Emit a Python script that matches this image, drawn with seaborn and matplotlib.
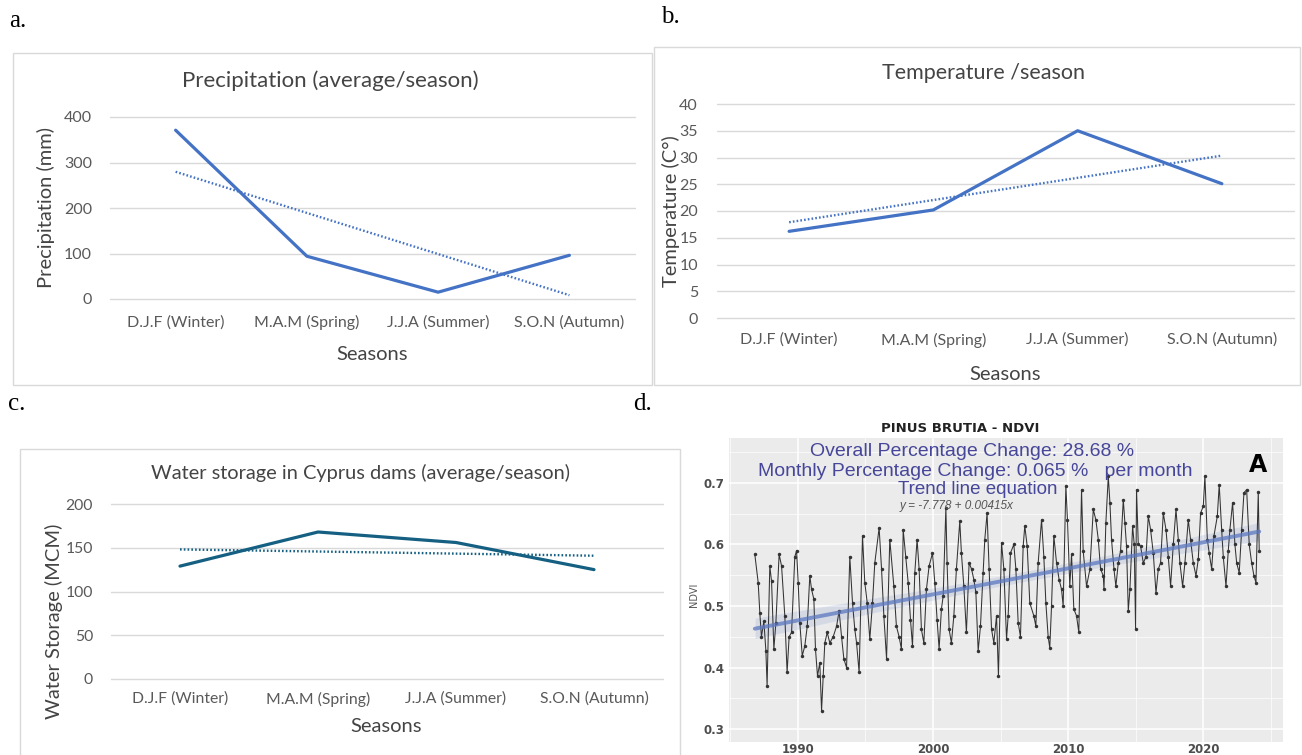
import numpy as np
import pandas as pd
import matplotlib.pyplot as plt
import seaborn as sns
from matplotlib.patches import Rectangle

# seasonal climate values (panels a-c)
seasons = ['D.J.F (Winter)', 'M.A.M (Spring)', 'J.J.A (Summer)', 'S.O.N (Autumn)']
precip_mm = [371, 94, 15, 96]
temp_c = [16.2, 20.2, 35.0, 25.1]
storage_mcm = [129, 168, 156, 125]

# NDVI time series (panel d)
ndvi_year = [
    1986.81, 1987.06, 1987.18, 1987.30, 1987.48, 1987.63, 1987.72, 1987.92, 1988.05, 1988.22,
    1988.37, 1988.61, 1988.79, 1989.03, 1989.20, 1989.35, 1989.53, 1989.77, 1989.90, 1990.02,
    1990.14, 1990.32, 1990.51, 1990.69, 1990.88, 1991.01, 1991.18, 1991.30, 1991.45, 1991.62,
    1991.75, 1991.87, 1991.99, 1992.17, 1992.36, 1992.61, 1992.86, 1993.05, 1993.23, 1993.40,
    1993.60, 1993.84, 1994.04, 1994.21, 1994.34, 1994.53, 1994.78, 1994.95, 1995.13, 1995.32,
    1995.52, 1995.69, 1996.01, 1996.19, 1996.36, 1996.56, 1996.80, 1997.10, 1997.29, 1997.49,
    1997.66, 1997.79, 1997.98, 1998.16, 1998.33, 1998.48, 1998.65, 1998.82, 1998.97, 1999.14,
    1999.32, 1999.51, 1999.71, 1999.96, 2000.13, 2000.30, 2000.45, 2000.62, 2000.75, 2000.95,
    2001.04, 2001.19, 2001.36, 2001.54, 2001.73, 2001.98, 2002.10, 2002.28, 2002.47, 2002.67,
    2002.85, 2003.02, 2003.17, 2003.34, 2003.51, 2003.71, 2003.83, 2004.00, 2004.15, 2004.33,
    2004.50, 2004.70, 2004.84, 2005.07, 2005.24, 2005.44, 2005.56, 2005.73, 2005.98, 2006.13,
    2006.30, 2006.47, 2006.67, 2006.79, 2006.97, 2007.16, 2007.46, 2007.61, 2007.78, 2008.03,
    2008.20, 2008.35, 2008.52, 2008.64, 2008.77, 2008.94, 2009.14, 2009.33, 2009.51, 2009.63,
    2009.83, 2009.95, 2010.12, 2010.25, 2010.42, 2010.62, 2010.79, 2010.99, 2011.11, 2011.36,
    2011.61, 2011.86, 2012.05, 2012.23, 2012.40, 2012.60, 2012.65, 2012.79, 2012.97, 2013.09,
    2013.21, 2013.39, 2013.53, 2013.71, 2013.88, 2014.08, 2014.20, 2014.32, 2014.45, 2014.57,
    2014.77, 2014.89, 2014.99, 2015.06, 2015.19, 2015.36, 2015.56, 2015.76, 2015.93, 2016.10,
    2016.30, 2016.50, 2016.67, 2016.84, 2017.04, 2017.24, 2017.41, 2017.58, 2017.78, 2017.98,
    2018.15, 2018.27, 2018.47, 2018.64, 2018.89, 2019.06, 2019.26, 2019.46, 2019.63, 2019.80,
    2020.00, 2020.12, 2020.30, 2020.44, 2020.62, 2020.79, 2021.04, 2021.18, 2021.36, 2021.48,
    2021.68, 2021.85, 2021.97, 2022.17, 2022.34, 2022.47, 2022.66, 2022.84, 2023.01, 2023.21,
    2023.40, 2023.58, 2023.75, 2023.90, 2024.07, 2024.14,
]
ndvi_value = [
    0.584, 0.538, 0.489, 0.450, 0.475, 0.427, 0.370, 0.565, 0.540, 0.430,
    0.473, 0.584, 0.565, 0.484, 0.392, 0.450, 0.457, 0.580, 0.590, 0.538,
    0.473, 0.419, 0.435, 0.467, 0.549, 0.527, 0.511, 0.430, 0.386, 0.408,
    0.330, 0.386, 0.440, 0.457, 0.440, 0.450, 0.467, 0.492, 0.450, 0.414,
    0.400, 0.580, 0.505, 0.462, 0.440, 0.392, 0.614, 0.538, 0.505, 0.446,
    0.505, 0.570, 0.627, 0.560, 0.484, 0.414, 0.608, 0.532, 0.467, 0.450,
    0.430, 0.624, 0.580, 0.538, 0.478, 0.435, 0.554, 0.608, 0.560, 0.462,
    0.440, 0.527, 0.565, 0.586, 0.538, 0.478, 0.430, 0.495, 0.516, 0.660,
    0.570, 0.462, 0.440, 0.484, 0.560, 0.638, 0.586, 0.532, 0.457, 0.570,
    0.560, 0.543, 0.522, 0.427, 0.467, 0.554, 0.608, 0.651, 0.560, 0.462,
    0.440, 0.484, 0.386, 0.603, 0.560, 0.446, 0.484, 0.586, 0.600, 0.560,
    0.473, 0.450, 0.597, 0.630, 0.597, 0.505, 0.484, 0.467, 0.570, 0.640,
    0.580, 0.505, 0.450, 0.432, 0.500, 0.614, 0.570, 0.543, 0.527, 0.500,
    0.695, 0.640, 0.532, 0.584, 0.495, 0.484, 0.457, 0.689, 0.590, 0.532,
    0.560, 0.657, 0.640, 0.608, 0.560, 0.549, 0.527, 0.635, 0.711, 0.668,
    0.608, 0.560, 0.532, 0.570, 0.590, 0.673, 0.635, 0.597, 0.492, 0.527,
    0.630, 0.600, 0.462, 0.689, 0.600, 0.597, 0.570, 0.580, 0.646, 0.624,
    0.586, 0.521, 0.560, 0.570, 0.651, 0.624, 0.580, 0.532, 0.600, 0.657,
    0.608, 0.570, 0.532, 0.570, 0.640, 0.608, 0.570, 0.549, 0.576, 0.651,
    0.662, 0.711, 0.608, 0.586, 0.560, 0.614, 0.646, 0.697, 0.624, 0.580,
    0.532, 0.590, 0.624, 0.668, 0.600, 0.570, 0.554, 0.624, 0.684, 0.689,
    0.600, 0.570, 0.549, 0.538, 0.686, 0.590,
]

sns.set_theme(style="white")
plt.rcParams['font.family'] = ['Lato', 'DejaVu Sans']

W, H = 1302, 755
fig = plt.figure(figsize=(W / 100, H / 100), dpi=100)
TICK_TXT = '#595959'
LABEL_TXT = '#444444'


def rect(x0, y0, x1, y1):
    # pixel box (top-left origin) -> figure fraction
    return [x0 / W, 1 - y1 / H, (x1 - x0) / W, (y1 - y0) / H]


def frame(x0, y0, x1, y1):
    fig.patches.append(Rectangle((x0 / W, 1 - y1 / H), (x1 - x0) / W, (y1 - y0) / H,
                                 transform=fig.transFigure, fill=False,
                                 ec='#d9d9d9', lw=1))


def ftext(x, y, s, ha='center', va='center', **kw):
    fig.text(x / W, 1 - y / H, s, ha=ha, va=va, **kw)


def season_panel(area, values, yticks, color, title, title_xy, title_size,
                 ylabel, ylabel_xy, xlabel_xy, xpad, ypad, tick_size=11.5):
    ax = fig.add_axes(rect(*area))
    pos = np.arange(len(seasons))
    sns.lineplot(x=pos, y=values, ax=ax, color=color, lw=2.3,
                 solid_capstyle='round', solid_joinstyle='round')
    # linear trend line, dotted like the Excel trendline
    sns.regplot(x=pos, y=values, ax=ax, scatter=False, ci=None, color=color,
                line_kws=dict(lw=1.7, ls=(0, (0.7, 0.9))))
    ax.set_xlim(-0.5, len(seasons) - 0.5)
    ax.set_ylim(yticks[0], yticks[-1])
    ax.set_xticks(pos, seasons)
    ax.set_yticks(yticks)
    ax.set_axisbelow(True)
    ax.grid(axis='y', color='#d9d9d9', lw=1)
    for gl in ax.get_ygridlines():
        gl.set_clip_on(False)
    sns.despine(ax=ax, left=True, bottom=True)
    ax.tick_params(axis='x', length=0, pad=xpad, labelsize=tick_size, labelcolor=TICK_TXT)
    ax.tick_params(axis='y', length=0, pad=ypad, labelsize=tick_size, labelcolor=TICK_TXT)
    ax.set_xlabel('')
    ax.set_ylabel('')
    ftext(*title_xy, title, fontsize=title_size, color=LABEL_TXT)
    ftext(*ylabel_xy, ylabel, fontsize=14.5, color=LABEL_TXT, rotation=90)
    ftext(*xlabel_xy, 'Seasons', fontsize=14.5, color=LABEL_TXT)
    return ax


# panel frames
frame(13, 53, 652, 385)
frame(654, 47, 1300, 385)
frame(20, 449, 680, 762)

# a. precipitation
season_panel((110, 117, 635, 299), precip_mm, [0, 100, 200, 300, 400], '#4472C4',
             'Precipitation (average/season)', (330, 81), 16,
             'Precipitation (mm)', (46, 208), (372, 354), xpad=11.8, ypad=13)

# b. temperature
season_panel((717, 104, 1294, 318), temp_c, list(range(0, 41, 5)), '#4472C4',
             'Temperature /season', (983, 73), 15.5,
             'Temperature (C°)', (671, 211), (1005, 374), xpad=10.4, ypad=13.7)

# c. water storage
season_panel((111, 504, 663, 679), storage_mcm, [0, 50, 100, 150, 200], '#156082',
             'Water storage in Cyprus dams (average/season)', (360, 473), 14.4,
             'Water Storage (MCM)', (54, 621), (386, 727), xpad=9, ypad=13, tick_size=11.3)

# d. NDVI time series
axd = fig.add_axes(rect(729, 438, 1283, 742))
axd.set_facecolor('#ebebeb')
sns.lineplot(x=ndvi_year, y=ndvi_value, ax=axd, color='#333333', lw=0.75,
             marker='o', markersize=2.5, markeredgewidth=0, estimator=None, sort=False)
sns.regplot(x=ndvi_year, y=ndvi_value, ax=axd, scatter=False, ci=95, seed=0,
            color='#5b78bf', line_kws=dict(lw=2.8, alpha=0.75))
axd.set_xlim(1984.9, 2025.9)
axd.set_ylim(0.279, 0.773)
axd.set_xticks([1990, 2000, 2010, 2020])
axd.set_xticks([1985, 1995, 2005, 2015, 2025], minor=True)
yt = [0.3, 0.4, 0.5, 0.6, 0.7]
axd.set_yticks(yt, [f'{t:.1f}' for t in yt])
axd.set_yticks([0.35, 0.45, 0.55, 0.65, 0.75], minor=True)
axd.grid(which='major', color='white', lw=1.1)
axd.grid(which='minor', color='white', lw=0.5)
axd.set_axisbelow(True)
sns.despine(ax=axd, left=True, bottom=True)
axd.tick_params(which='both', length=0)
axd.tick_params(axis='y', pad=3)
axd.tick_params(axis='x', pad=1)
for lbl in axd.get_xticklabels() + axd.get_yticklabels():
    lbl.set_fontfamily('DejaVu Sans')
    lbl.set_fontweight('bold')
    lbl.set_fontsize(8.5)
    lbl.set_color('#4d4d4d')
axd.set_xlabel('')
axd.set_ylabel('')
ftext(694, 595, 'NDVI', fontsize=7, color='#555555', rotation=90, family='DejaVu Sans')

ftext(960, 428, 'PINUS BRUTIA - NDVI', fontsize=9.5, weight='bold', color='#222222',
      family='DejaVu Sans')
ndvi_blue = '#46469a'
ftext(972, 451, 'Overall Percentage Change: 28.68 %', fontsize=14, color=ndvi_blue,
      family='Liberation Sans')
ftext(975, 472, 'Monthly Percentage Change: 0.065 %   per month', fontsize=14,
      color=ndvi_blue, family='Liberation Sans')
ftext(978, 490, 'Trend line equation', fontsize=13.5, color=ndvi_blue,
      family='Liberation Sans')
ftext(957, 506, 'y = -7.778 + 0.00415x', fontsize=8.5, style='italic', color='#555555',
      family='Liberation Sans')
ftext(1258, 465, 'A', fontsize=17, weight='bold', color='black', family='DejaVu Sans')

# panel letters
for letter, x, y in [('a.', 18, 21), ('b.', 670, 17), ('c.', 17, 404), ('d.', 643, 404)]:
    ftext(x, y, letter, fontsize=18, color='black', family='Liberation Serif')

fig.savefig('out.png', dpi=100)
